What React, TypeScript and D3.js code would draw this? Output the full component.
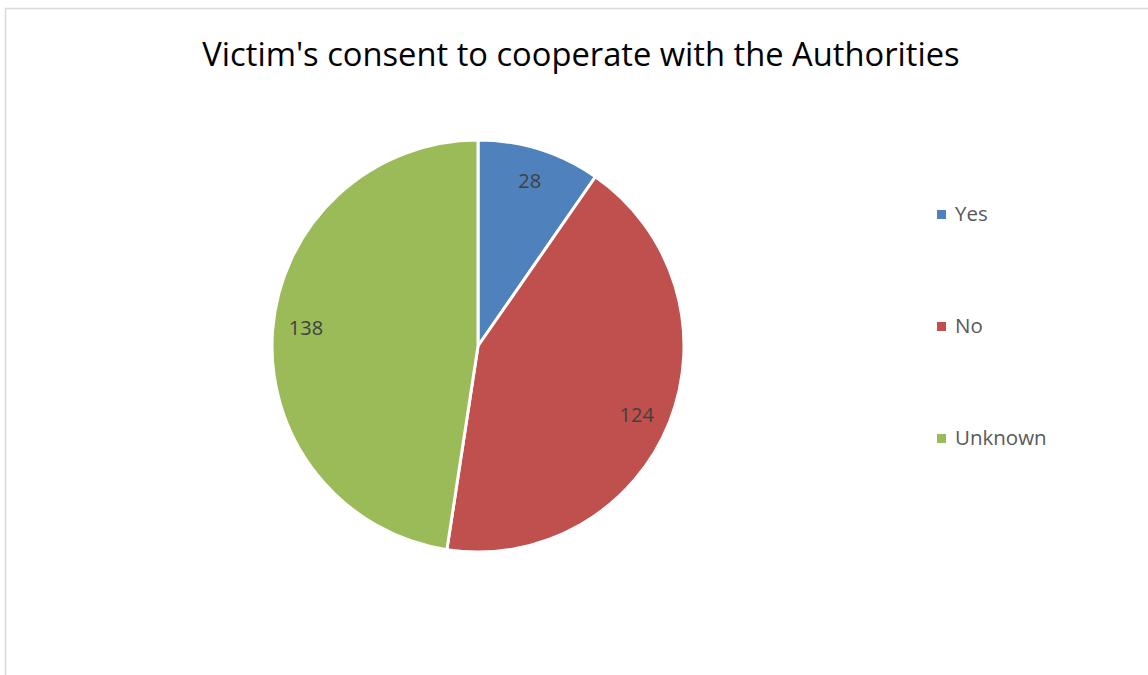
import React from "react";
import * as d3 from "d3";

const categories = ["Yes", "No", "Unknown"];
const values = [28, 124, 138];
const colors = ["#4F81BD", "#C0504D", "#9BBB59"];
const title = "Victim's consent to cooperate with the Authorities";

export default function App() {
  const W = 1148, H = 675;
  const cx = 478, cy = 346, R = 206;
  const data = categories.map((c, i) => ({ c, v: values[i], color: colors[i] }));
  const pie = d3.pie<any>().value((d) => d.v).sort(null);
  const arcs = pie(data);
  const arc = d3.arc<any>().innerRadius(0).outerRadius(R);
  const labelArc = d3.arc<any>().innerRadius(173).outerRadius(173);
  const legendY = d3.scalePoint<string>().domain(categories).range([214, 438]);
  const font = "'Open Sans', sans-serif";
  return (
    <svg width={W} height={H} style={{ position: "absolute", left: 0, top: 0, background: "#fff" }}>
      <rect x={5.5} y={8.5} width={W} height={H} fill="#fff" stroke="#d9d9d9" strokeWidth={1.5} />
      <text x={581} y={66} textAnchor="middle" fontFamily={font} fontSize={32.7} fill="#000">{title}</text>
      <g transform={`translate(${cx},${cy})`}>
        {arcs.map((a, i) => (
          <path key={i} d={arc(a) || ""} fill={a.data.color} stroke="#fff" strokeWidth={3} strokeLinejoin="round" />
        ))}
        {arcs.map((a, i) => {
          const shifted = { ...a, startAngle: a.startAngle + 0.03, endAngle: a.endAngle + 0.03 };
          const [x, y] = labelArc.centroid(i === 0 ? a : shifted);
          return (
            <text key={"l" + i} x={x} y={y} dy="0.35em" textAnchor="middle" fontFamily={font} fontSize={20} fill="#404040">{a.data.v}</text>
          );
        })}
      </g>
      {categories.map((c, i) => (
        <g key={c} transform={`translate(0,${legendY(c)})`}>
          <rect x={937} y={-4} width={9} height={9} fill={colors[i]} />
          <text x={955} y={0} dy="0.35em" fontFamily={font} fontSize={20.5} fill="#595959">{c}</text>
        </g>
      ))}
    </svg>
  );
}
